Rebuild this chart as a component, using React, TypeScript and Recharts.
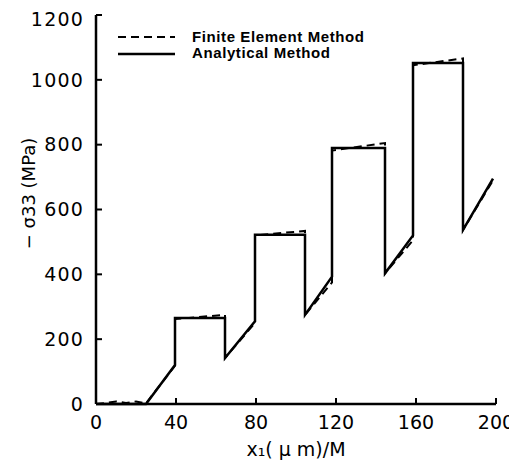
import React from 'react';
import { LineChart, Line, XAxis, YAxis, Legend } from 'recharts';

// Analytical solution: linear ramps between the fibre layers, plateaus across them
const analyticalX = [0, 25, 39.5, 39.5, 64.5, 64.5, 79.5, 79.5, 104.5, 104.5, 118, 118, 144.5, 144.5, 158.5, 158.5, 183.5, 183.5, 198.5];
const analyticalY = [0, 0, 120, 265, 265, 142, 255, 522, 522, 275, 393, 790, 790, 403, 520, 1052, 1052, 537, 695];

// Finite element results
const femX = [0, 5, 10, 15, 20, 25, 39.5, 39.5, 64.5, 64.5, 79.5, 79.5, 104.5, 104.5, 118, 118, 144.5, 144.5, 158.5, 158.5, 183.5, 183.5, 198.5];
const femY = [0, 3, 8, 3, 8, 2, 118, 262, 275, 142, 250, 520, 534, 275, 375, 782, 805, 403, 505, 1045, 1066, 537, 690];

const xTicks = [0, 40, 80, 120, 160, 200];
const yTicks = [0, 200, 400, 600, 800, 1000, 1200];

const analytical = analyticalX.map((x, i) => ({ x, y: analyticalY[i] }));
const fem = femX.map((x, i) => ({ x, y: femY[i] }));

const FONT = 'DejaVu Sans, sans-serif';
const LEGEND_FONT = 'Liberation Sans, Arial, sans-serif';

const LegendBox = () => (
  <svg width={300} height={36} style={{ overflow: 'visible', display: 'block' }}>
    <line x1={0} x2={57} y1={7} y2={7} stroke="#000" strokeWidth={2} strokeDasharray="8 5" />
    <line x1={0} x2={57} y1={24} y2={24} stroke="#000" strokeWidth={2.5} />
    <text x={74} y={12} fontFamily={LEGEND_FONT} fontWeight="bold" fontSize={15} letterSpacing={0.6} fill="#000">
      Finite Element Method
    </text>
    <text x={74} y={28} fontFamily={LEGEND_FONT} fontWeight="bold" fontSize={15} letterSpacing={0.6} fill="#000">
      Analytical Method
    </text>
  </svg>
);

const YLabel = (props: any) => {
  const vb = props.viewBox || {};
  const cx = 20;
  const cy = vb.y + vb.height / 2 - 16;
  return (
    <text
      x={cx}
      y={cy}
      transform={`rotate(-90, ${cx}, ${cy})`}
      textAnchor="middle"
      dominantBaseline="central"
      fontFamily={FONT}
      fontSize={18}
      fill="#000"
    >
      − σ33 (MPa)
    </text>
  );
};

export default function App() {
  return (
    <div style={{ width: 509, height: 458 }}>
      <style>{'html, body { overflow: hidden; } .recharts-surface, .recharts-wrapper { overflow: visible !important; }'}</style>
      <LineChart
        width={509}
        height={458}
        margin={{ top: 7, right: 21, bottom: 32, left: 28 }}
        style={{ background: '#fff' }}
      >
        <XAxis
          dataKey="x"
          type="number"
          domain={[0, 200]}
          ticks={xTicks}
          allowDuplicatedCategory={false}
          axisLine={{ stroke: '#000', strokeWidth: 2.5 }}
          tickLine={{ stroke: '#000', strokeWidth: 2 }}
          tickSize={-6}
          tickMargin={18}
          height={30}
          tick={{ fill: '#000', fontFamily: FONT, fontSize: 19 }}
          label={{
            value: 'x₁( μ m)/M',
            position: 'insideBottom',
            offset: -22,
            style: { fill: '#000', fontFamily: FONT, fontSize: 19 },
          }}
        />
        <YAxis
          dataKey="y"
          type="number"
          domain={[0, 1200]}
          ticks={yTicks}
          width={60}
          axisLine={{ stroke: '#000', strokeWidth: 2.5 }}
          tickLine={{ stroke: '#000', strokeWidth: 2 }}
          tickSize={-6}
          tickMargin={18}
          tick={{ fill: '#000', fontFamily: FONT, fontSize: 19, letterSpacing: 1.2 }}
          label={<YLabel />}
        />
        <Legend
          layout="vertical"
          align="center"
          verticalAlign="middle"
          content={() => <LegendBox />}
          wrapperStyle={{ position: 'absolute', left: 110, top: 22, width: 300, height: 36 }}
        />
        <Line
          data={fem}
          dataKey="y"
          name="Finite Element Method"
          stroke="#000"
          strokeWidth={2}
          strokeDasharray="8 5"
          dot={false}
          isAnimationActive={false}
          type="linear"
        />
        <Line
          data={analytical}
          dataKey="y"
          name="Analytical Method"
          stroke="#000"
          strokeWidth={2.5}
          dot={false}
          isAnimationActive={false}
          type="linear"
        />
      </LineChart>
    </div>
  );
}
